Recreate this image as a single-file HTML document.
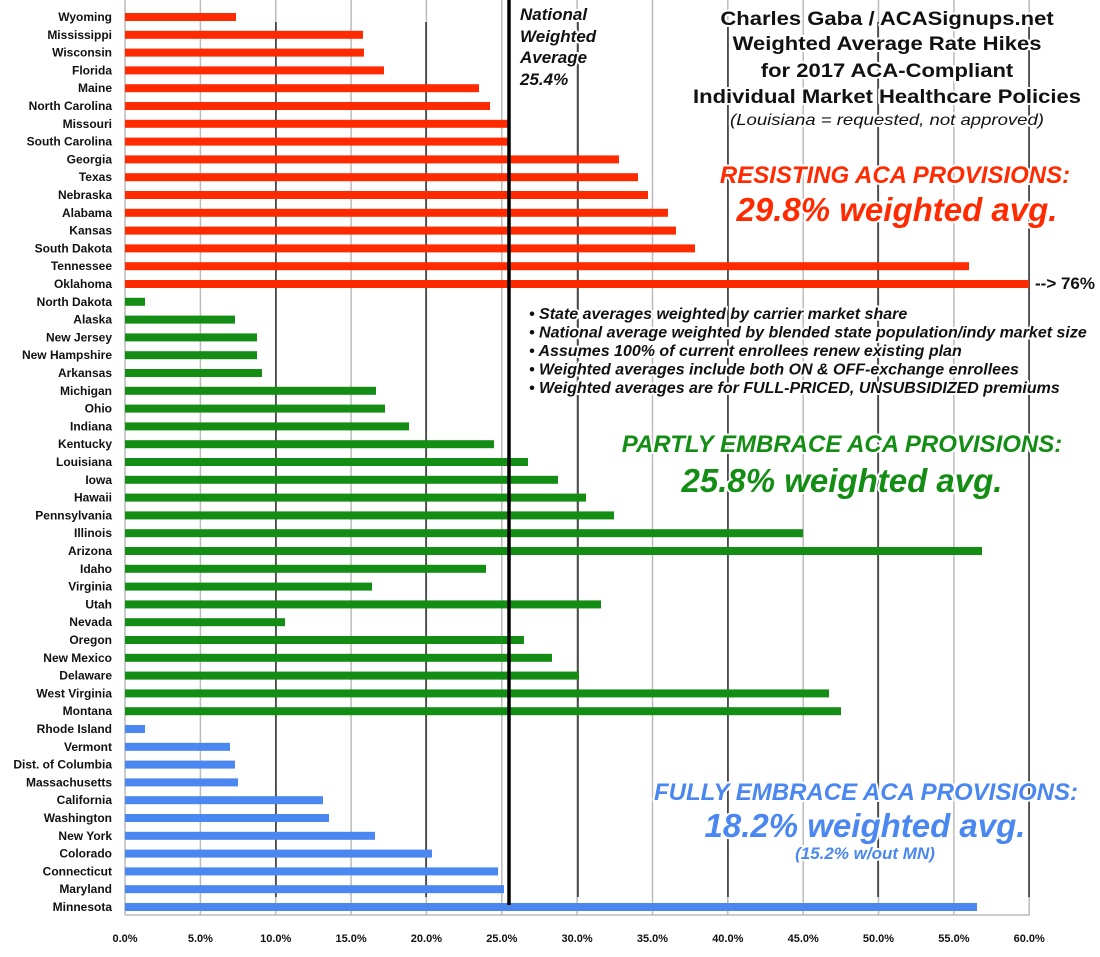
<!DOCTYPE html>
<html><head><meta charset="utf-8"><style>
html,body{margin:0;padding:0;background:#fff;}
svg{display:block;font-family:"Liberation Sans",Arial,sans-serif;}
.l{font-size:12px;font-weight:bold;text-anchor:end;fill:#111}
.x{font-size:11px;font-weight:bold;text-anchor:middle;fill:#111}
.r{fill:#ff2a00}.g{fill:#138d13}.b{fill:#4a87f0}
.t{stroke:#fff;stroke-width:4;paint-order:stroke;stroke-linejoin:round}
</style></head><body>
<svg width="1100" height="957" viewBox="0 0 1100 957">
<g stroke="#bbb" stroke-width="1.5">
<line x1="200.4" y1="0" x2="200.4" y2="915"/><line x1="275.7" y1="0" x2="275.7" y2="915"/><line x1="351.1" y1="0" x2="351.1" y2="915"/><line x1="426.4" y1="0" x2="426.4" y2="915"/><line x1="501.8" y1="0" x2="501.8" y2="915"/><line x1="577.1" y1="0" x2="577.1" y2="915"/><line x1="652.5" y1="0" x2="652.5" y2="915"/><line x1="727.8" y1="0" x2="727.8" y2="915"/><line x1="803.2" y1="0" x2="803.2" y2="915"/><line x1="878.5" y1="0" x2="878.5" y2="915"/><line x1="953.9" y1="0" x2="953.9" y2="915"/><line x1="1029.2" y1="0" x2="1029.2" y2="915"/>
<line x1="125" y1="0" x2="125" y2="915"/><line x1="125" y1="915" x2="1030" y2="915"/>
</g>
<g stroke="#000" stroke-width="1.2">
<line x1="276" y1="22" x2="276" y2="897"/><line x1="426" y1="22" x2="426" y2="897"/><line x1="578" y1="22" x2="578" y2="897"/><line x1="728" y1="22" x2="728" y2="897"/><line x1="878" y1="22" x2="878" y2="897"/><line x1="1029" y1="22" x2="1029" y2="897"/>
</g>
<g class="r">
<rect x="125" y="13" width="111" height="8"/>
<rect x="125" y="30.8" width="238" height="8"/>
<rect x="125" y="48.6" width="239" height="8"/>
<rect x="125" y="66.4" width="259" height="8"/>
<rect x="125" y="84.2" width="354" height="8"/>
<rect x="125" y="102" width="365" height="8"/>
<rect x="125" y="119.8" width="383" height="8"/>
<rect x="125" y="137.6" width="383" height="8"/>
<rect x="125" y="155.4" width="494" height="8"/>
<rect x="125" y="173.2" width="513" height="8"/>
<rect x="125" y="191" width="523" height="8"/>
<rect x="125" y="208.8" width="543" height="8"/>
<rect x="125" y="226.6" width="551" height="8"/>
<rect x="125" y="244.4" width="570" height="8"/>
<rect x="125" y="262.2" width="844" height="8"/>
<rect x="125" y="280" width="904" height="8"/>
</g>
<g class="g">
<rect x="125" y="297.8" width="20" height="8"/>
<rect x="125" y="315.6" width="110" height="8"/>
<rect x="125" y="333.4" width="132" height="8"/>
<rect x="125" y="351.2" width="132" height="8"/>
<rect x="125" y="369" width="137" height="8"/>
<rect x="125" y="386.8" width="251" height="8"/>
<rect x="125" y="404.6" width="260" height="8"/>
<rect x="125" y="422.4" width="284" height="8"/>
<rect x="125" y="440.2" width="369" height="8"/>
<rect x="125" y="458" width="403" height="8"/>
<rect x="125" y="475.8" width="433" height="8"/>
<rect x="125" y="493.6" width="461" height="8"/>
<rect x="125" y="511.4" width="489" height="8"/>
<rect x="125" y="529.2" width="678" height="8"/>
<rect x="125" y="547" width="857" height="8"/>
<rect x="125" y="564.8" width="361" height="8"/>
<rect x="125" y="582.6" width="247" height="8"/>
<rect x="125" y="600.4" width="476" height="8"/>
<rect x="125" y="618.2" width="160" height="8"/>
<rect x="125" y="636" width="399" height="8"/>
<rect x="125" y="653.8" width="427" height="8"/>
<rect x="125" y="671.6" width="454" height="8"/>
<rect x="125" y="689.4" width="704" height="8"/>
<rect x="125" y="707.2" width="716" height="8"/>
</g>
<g class="b">
<rect x="125" y="725" width="20" height="8"/>
<rect x="125" y="742.8" width="105" height="8"/>
<rect x="125" y="760.6" width="110" height="8"/>
<rect x="125" y="778.4" width="113" height="8"/>
<rect x="125" y="796.2" width="198" height="8"/>
<rect x="125" y="814" width="204" height="8"/>
<rect x="125" y="831.8" width="250" height="8"/>
<rect x="125" y="849.6" width="307" height="8"/>
<rect x="125" y="867.4" width="373" height="8"/>
<rect x="125" y="885.2" width="379" height="8"/>
<rect x="125" y="903" width="852" height="8"/>
</g>
<line x1="509" y1="0" x2="509" y2="905" stroke="#000" stroke-width="3.5"/>
<g class="l">
<text x="112" y="21">Wyoming</text><text x="112" y="38.8">Mississippi</text><text x="112" y="56.6">Wisconsin</text><text x="112" y="74.4">Florida</text><text x="112" y="92.2">Maine</text><text x="112" y="110">North Carolina</text><text x="112" y="127.8">Missouri</text><text x="112" y="145.6">South Carolina</text><text x="112" y="163.4">Georgia</text><text x="112" y="181.2">Texas</text><text x="112" y="199">Nebraska</text><text x="112" y="216.8">Alabama</text><text x="112" y="234.6">Kansas</text><text x="112" y="252.4">South Dakota</text><text x="112" y="270.2">Tennessee</text><text x="112" y="288">Oklahoma</text>
<text x="112" y="305.8">North Dakota</text><text x="112" y="323.6">Alaska</text><text x="112" y="341.4">New Jersey</text><text x="112" y="359.2">New Hampshire</text><text x="112" y="377">Arkansas</text><text x="112" y="394.8">Michigan</text><text x="112" y="412.6">Ohio</text><text x="112" y="430.4">Indiana</text><text x="112" y="448.2">Kentucky</text><text x="112" y="466">Louisiana</text><text x="112" y="483.8">Iowa</text><text x="112" y="501.6">Hawaii</text><text x="112" y="519.4">Pennsylvania</text><text x="112" y="537.2">Illinois</text><text x="112" y="555">Arizona</text><text x="112" y="572.8">Idaho</text><text x="112" y="590.6">Virginia</text><text x="112" y="608.4">Utah</text><text x="112" y="626.2">Nevada</text><text x="112" y="644">Oregon</text><text x="112" y="661.8">New Mexico</text><text x="112" y="679.6">Delaware</text><text x="112" y="697.4">West Virginia</text><text x="112" y="715.2">Montana</text>
<text x="112" y="733">Rhode Island</text><text x="112" y="750.8">Vermont</text><text x="112" y="768.6">Dist. of Columbia</text><text x="112" y="786.4">Massachusetts</text><text x="112" y="804.2">California</text><text x="112" y="822">Washington</text><text x="112" y="839.8">New York</text><text x="112" y="857.6">Colorado</text><text x="112" y="875.4">Connecticut</text><text x="112" y="893.2">Maryland</text><text x="112" y="911">Minnesota</text>
</g>
<g class="x">
<text x="125" y="942">0.0%</text><text x="200.4" y="942">5.0%</text><text x="275.7" y="942">10.0%</text><text x="351.1" y="942">15.0%</text><text x="426.4" y="942">20.0%</text><text x="501.8" y="942">25.0%</text><text x="577.1" y="942">30.0%</text><text x="652.5" y="942">35.0%</text><text x="727.8" y="942">40.0%</text><text x="803.2" y="942">45.0%</text><text x="878.5" y="942">50.0%</text><text x="953.9" y="942">55.0%</text><text x="1029.2" y="942">60.0%</text>
</g>
<g class="t" font-style="italic" font-weight="bold" font-size="17" fill="#111">
<text x="520" y="20">National</text><text x="520" y="42">Weighted</text><text x="520" y="63">Average</text><text x="520" y="85">25.4%</text>
</g>
<g transform="translate(887 0) scale(1.16 1)">
<g class="t" text-anchor="middle" font-weight="bold" font-size="19" fill="#111">
<text x="0" y="25">Charles Gaba / ACASignups.net</text>
<text x="0" y="50">Weighted Average Rate Hikes</text>
<text x="0" y="77">for 2017 ACA-Compliant</text>
<text x="0" y="103">Individual Market Healthcare Policies</text>
</g>
<text class="t" x="0" y="125" text-anchor="middle" font-style="italic" font-size="16" fill="#111">(Louisiana = requested, not approved)</text>
</g>
<g class="t" text-anchor="middle" font-style="italic" font-weight="bold">
<text x="895" y="183" font-size="24" fill="#ff2a00">RESISTING ACA PROVISIONS:</text>
<text x="897" y="221" font-size="33" fill="#ff2a00">29.8% weighted avg.</text>
<text x="842" y="452" font-size="24" fill="#138d13">PARTLY EMBRACE ACA PROVISIONS:</text>
<text x="842" y="492" font-size="33" fill="#138d13">25.8% weighted avg.</text>
<text x="866" y="800" font-size="24" fill="#4a87f0">FULLY EMBRACE ACA PROVISIONS:</text>
<text x="865" y="837" font-size="33" fill="#4a87f0">18.2% weighted avg.</text>
<text x="865" y="859" font-size="17" fill="#4a87f0">(15.2% w/out MN)</text>
</g>
<text class="t" x="1035" y="289" font-weight="bold" font-size="17" fill="#111">--&gt; 76%</text>
<g class="t" font-style="italic" font-weight="bold" font-size="16" fill="#111">
<text x="529" y="319">• State averages weighted by carrier market share</text>
<text x="529" y="337.5">• National average weighted by blended state population/indy market size</text>
<text x="529" y="356">• Assumes 100% of current enrollees renew existing plan</text>
<text x="529" y="374.5">• Weighted averages include both ON &amp; OFF-exchange enrollees</text>
<text x="529" y="393">• Weighted averages are for FULL-PRICED, UNSUBSIDIZED premiums</text>
</g>
</svg>
</body></html>
